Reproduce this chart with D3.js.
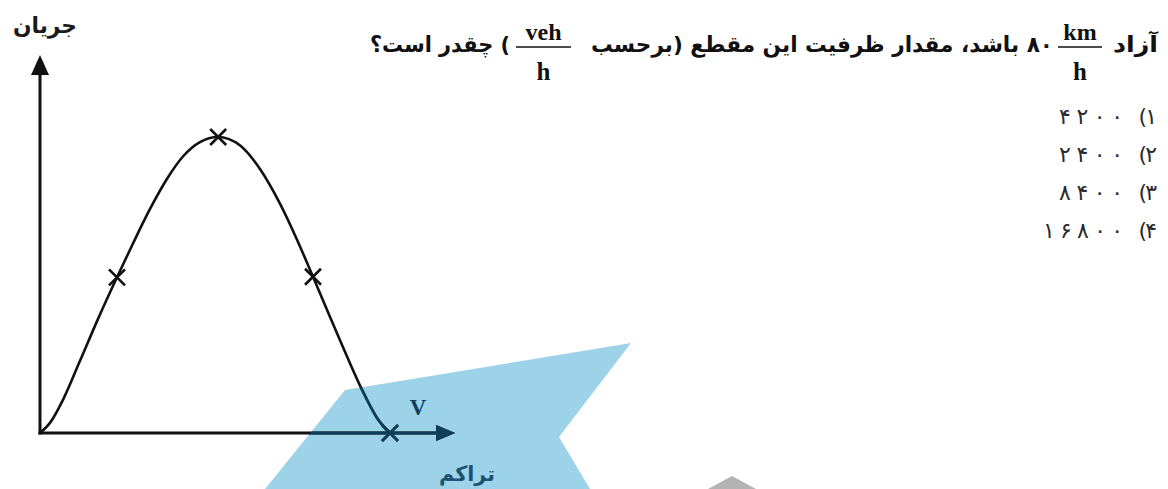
<!DOCTYPE html>
<html>
<head>
<meta charset="utf-8">
<script src="https://cdn.jsdelivr.net/npm/d3@7"></script>
<style>
  body { margin: 0; background: #fff; }
  svg { display: block; }
</style>
</head>
<body>
<svg id="chart" width="1168" height="489"></svg>
<script>
// données (densité / débit, en unités relatives)
const density = [0, 2.9, 6.6, 11.4, 16.3, 22, 26.6, 31.4, 36.3, 40.9, 45.7, 50.9, 57.1, 62.9, 68.6, 73.4, 78, 82.9, 87.7, 92.3, 96.3, 100]
const flow = [0, 3.5, 11.3, 24.3, 37.8, 52.6, 64.1, 75.6, 85.9, 93.5, 98.3, 100, 97.2, 89.1, 77.4, 65.4, 52.8, 39.1, 25.9, 13.9, 5.1, 0]
const markDensity = [22, 50.9, 78, 100]
const markFlow = [52.6, 100, 52.8, 0]
const axisEnd = [118.6, 127.7]

const yLabel = "جریان"
const xLabel = "تراکم"
const vLabel = "V"
const titleParts = ["آزاد", "۸۰ باشد، مقدار ظرفیت این مقطع (برحسب", ") چقدر است؟"]
const unitKm = ["km", "h"]
const unitVeh = ["veh", "h"]
const optionIndex = ["۱", "۲", "۳", "۴"]
const optionValue = ["۴۲۰۰", "۲۴۰۰", "۸۴۰۰", "۱۶۸۰۰"]

const svg = d3.select("#chart")
const fa = "'DejaVu Sans', sans-serif"
const serif = "'Liberation Serif', 'Times New Roman', serif"
const teal = "#0e3f5a"

svg.append("rect").attr("width", 1168).attr("height", 489).attr("fill", "#fff")

// Échelles
const x = d3.scaleLinear().domain([0, 100]).range([40, 390])
const y = d3.scaleLinear().domain([0, 100]).range([433, 137])

// Forme bleue (filigrane) + forme grise
const bluePoly = [[345, 390], [631, 343], [559, 437], [590, 489], [265, 489]]
const grayPoly = [[732, 476], [708, 489], [756, 489]]

svg.append("defs").append("clipPath")
    .attr("id", "blueClip")
    .append("polygon")
    .attr("points", bluePoly.map(p => p.join(",")).join(" "))

svg.append("polygon")
    .attr("points", bluePoly.map(p => p.join(",")).join(" "))
    .attr("fill", "#9dd3e8")

svg.append("polygon")
    .attr("points", grayPoly.map(p => p.join(",")).join(" "))
    .attr("fill", "#b3b3b3")

const points = density.map((d, i) => [d, flow[i]])
const marks = markDensity.map((d, i) => [d, markFlow[i]])

function drawChart(g, color) {
    const x0 = x(0), y0 = y(0)
    const yTip = y(axisEnd[1]), xTip = x(axisEnd[0])

    // Axe vertical
    g.append("line")
        .attr("x1", x0).attr("y1", y0 + 1.5)
        .attr("x2", x0).attr("y2", yTip + 15)
        .attr("stroke", color).attr("stroke-width", 3)
    g.append("path")
        .attr("d", `M ${x0} ${yTip} L ${x0 - 9} ${yTip + 20} L ${x0 + 9} ${yTip + 20} Z`)
        .attr("fill", color)

    // Axe horizontal
    g.append("line")
        .attr("x1", x0 - 1.5).attr("y1", y0)
        .attr("x2", xTip - 15).attr("y2", y0)
        .attr("stroke", color).attr("stroke-width", 3)
    g.append("path")
        .attr("d", `M ${xTip} ${y0} L ${xTip - 19} ${y0 - 8} L ${xTip - 19} ${y0 + 8} Z`)
        .attr("fill", color)

    // Courbe
    g.append("path")
        .datum(points)
        .attr("d", d3.line()
            .x(d => x(d[0]))
            .y(d => y(d[1]))
            .curve(d3.curveMonotoneX))
        .attr("fill", "none")
        .attr("stroke", color)
        .attr("stroke-width", 2.6)

    // Croix
    const s = 8
    g.selectAll("path.cross")
        .data(marks)
        .enter()
        .append("path")
        .attr("class", "cross")
        .attr("d", d => {
            const cx = x(d[0]), cy = y(d[1])
            return `M ${cx - s} ${cy - s} L ${cx + s} ${cy + s} M ${cx - s} ${cy + s} L ${cx + s} ${cy - s}`
        })
        .attr("stroke", color)
        .attr("stroke-width", 2.6)
        .attr("fill", "none")
}

drawChart(svg.append("g"), "#111")
drawChart(svg.append("g").attr("clip-path", "url(#blueClip)"), teal)

// Étiquettes des axes
svg.append("text")
    .attr("x", 45).attr("y", 33)
    .attr("text-anchor", "middle")
    .attr("textLength", 64)
    .attr("lengthAdjust", "spacingAndGlyphs")
    .attr("font-family", fa).attr("font-weight", "bold").attr("font-size", 22)
    .attr("fill", "#1a1a1a")
    .text(yLabel)

svg.append("text")
    .attr("x", 418).attr("y", 415)
    .attr("text-anchor", "middle")
    .attr("font-family", serif).attr("font-weight", "bold").attr("font-size", 23)
    .attr("fill", teal)
    .text(vLabel)

svg.append("text")
    .attr("x", 467).attr("y", 481)
    .attr("text-anchor", "middle")
    .attr("textLength", 56)
    .attr("lengthAdjust", "spacingAndGlyphs")
    .attr("font-family", fa).attr("font-weight", "bold").attr("font-size", 21)
    .attr("fill", "#1b5272")
    .text(xLabel)

// Titre (texte persan + fractions)
const titleY = 52
const seg = [
    { text: titleParts[0], cx: 1135.5, w: 45 },
    { text: titleParts[1], cx: 822, w: 462 },
    { text: titleParts[2], cx: 440, w: 140 }
]
svg.selectAll("text.title")
    .data(seg)
    .enter()
    .append("text")
    .attr("class", "title")
    .attr("x", d => d.cx).attr("y", titleY)
    .attr("direction", "rtl")
    .attr("text-anchor", "middle")
    .attr("textLength", d => d.w)
    .attr("lengthAdjust", "spacingAndGlyphs")
    .attr("font-family", fa).attr("font-weight", "bold").attr("font-size", 22)
    .attr("fill", "#111")
    .text(d => d.text)

function fraction(cx, parts, w) {
    const g = svg.append("g")
    g.append("text")
        .attr("x", cx).attr("y", 40)
        .attr("text-anchor", "middle")
        .attr("font-family", serif).attr("font-weight", "bold").attr("font-size", 24)
        .attr("fill", "#111")
        .text(parts[0])
    g.append("line")
        .attr("x1", cx - w / 2).attr("x2", cx + w / 2)
        .attr("y1", 47).attr("y2", 47)
        .attr("stroke", "#111").attr("stroke-width", 1.5)
    g.append("text")
        .attr("x", cx).attr("y", 80)
        .attr("text-anchor", "middle")
        .attr("font-family", serif).attr("font-weight", "bold").attr("font-size", 25)
        .attr("fill", "#111")
        .text(parts[1])
}
fraction(1080, unitKm, 44)
fraction(543.5, unitVeh, 55)

// Options de réponse (de droite à gauche : numéro, parenthèse, valeur)
const rowY = (d, i) => 124 + i * 38
const opt = svg.append("g")
    .attr("font-family", fa).attr("font-size", 22)
    .attr("fill", "#2b2b2b")

opt.selectAll("text.idx")
    .data(optionIndex)
    .enter()
    .append("text")
    .attr("class", "idx")
    .attr("x", 1157).attr("y", rowY)
    .attr("text-anchor", "end")
    .text(d => d)

opt.selectAll("text.par")
    .data(optionIndex)
    .enter()
    .append("text")
    .attr("class", "par")
    .attr("x", 1147).attr("y", rowY)
    .attr("text-anchor", "end")
    .text("(")

opt.selectAll("text.val")
    .data(optionValue)
    .enter()
    .append("text")
    .attr("class", "val")
    .attr("x", 1123).attr("y", rowY)
    .attr("text-anchor", "end")
    .attr("textLength", d => d.length * 16)
    .attr("lengthAdjust", "spacing")
    .text(d => d)
</script>
</body>
</html>
